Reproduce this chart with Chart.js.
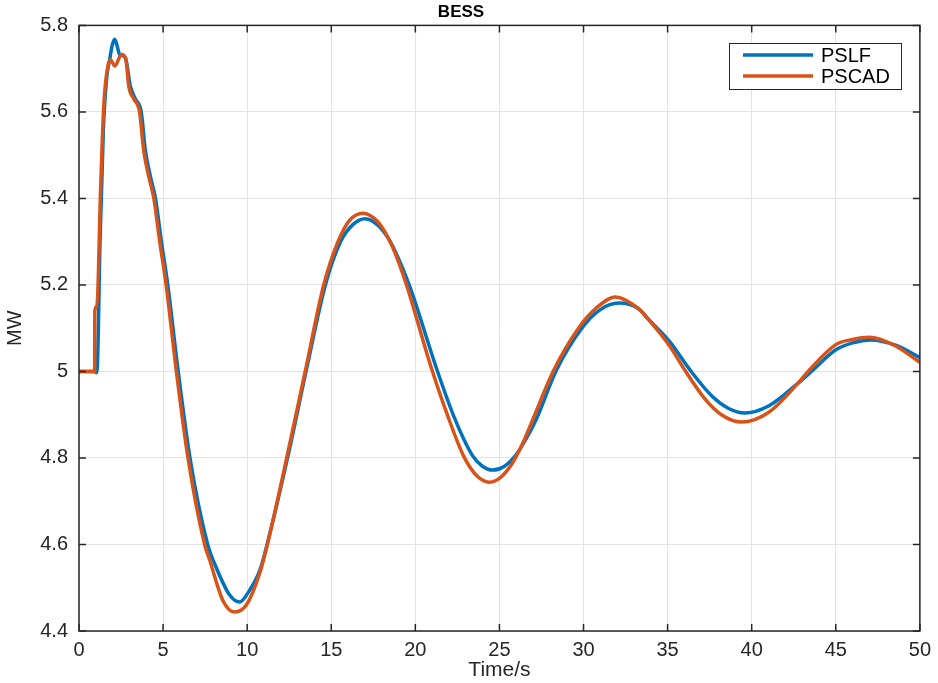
<!DOCTYPE html>
<html>
<head>
<meta charset="utf-8">
<script src="https://cdn.jsdelivr.net/npm/chart.js@4.4.0/dist/chart.umd.min.js"></script>
<style>
    body { margin: 0; background: #fff; }
    canvas { display: block; }
</style>
</head>
<body>
<canvas id="bessChart" width="938" height="683"></canvas>
<script>
// values
const pslfTime = [0, 0.98, 1.02, 1.1, 1.25, 1.45, 1.65, 1.82, 1.98, 2.12, 2.25, 2.41, 2.6, 2.8, 3.05, 3.35, 3.7, 3.95, 4.25, 4.55,
    4.9, 5.28, 5.9, 6.6, 7.65, 8.06, 8.96, 9.55, 10.14, 10.75, 11.25, 12.4, 13.5, 14.65, 15.55, 16.3, 17.02, 17.8, 18.3, 18.7,
    19.67, 21.25, 22.3, 23.39, 23.95, 24.6, 25.3, 26.0, 26.6, 27.2, 28.35, 29.9, 31.0, 32.1, 33.27, 33.87, 35.1, 36.34, 37.66, 38.6,
    39.6, 41.0, 42.76, 43.55, 45.0, 46.0, 47.1, 48.6, 50];
const pslfMW = [5.0, 5.0, 4.997, 5.02, 5.3, 5.56, 5.68, 5.72, 5.755, 5.768, 5.755, 5.733, 5.73, 5.72, 5.66, 5.63, 5.6, 5.51, 5.45, 5.40,
    5.30, 5.2, 5.0, 4.8, 4.6, 4.556, 4.483, 4.467, 4.494, 4.54, 4.61, 4.8, 5.0, 5.2, 5.3, 5.34, 5.353, 5.337, 5.313, 5.286,
    5.196, 5.008, 4.895, 4.806, 4.782, 4.772, 4.781, 4.808, 4.845, 4.89, 5.0, 5.1, 5.143, 5.158, 5.145, 5.12, 5.07, 5.003, 4.942, 4.915,
    4.904, 4.92, 4.973, 5.0, 5.05, 5.066, 5.073, 5.06, 5.032];

const pscadTime = [0, 0.93, 0.94, 1.06, 1.29, 1.48, 1.74, 1.88, 2.13, 2.53, 2.77, 2.97, 3.26, 3.6, 3.85, 4.15, 4.45, 4.8, 5.18, 5.79,
    6.48, 7.47, 7.77, 8.56, 9.25, 9.95, 10.74, 11.2, 12.35, 13.45, 14.55, 15.4, 16.1, 16.9, 17.7, 18.2, 18.64, 19.43, 20.92, 21.9,
    22.9, 23.7, 24.4, 25.1, 25.8, 26.4, 27.0, 28.19, 29.7, 30.8, 31.9, 33.27, 33.87, 35.1, 36.04, 37.23, 38.2, 39.4, 41.0, 42.76,
    43.35, 45.0, 46.0, 47.0, 48.5, 50];
const pscadMW = [5.0, 5.0, 5.14, 5.15, 5.43, 5.62, 5.71, 5.72, 5.706, 5.733, 5.724, 5.657, 5.63, 5.6, 5.51, 5.45, 5.40, 5.30, 5.2, 5.0,
    4.8, 4.6, 4.564, 4.47, 4.444, 4.46, 4.533, 4.6, 4.8, 5.0, 5.2, 5.3, 5.35, 5.366, 5.349, 5.322, 5.288, 5.205, 5.012, 4.9,
    4.802, 4.757, 4.744, 4.756, 4.79, 4.835, 4.89, 5.0, 5.1, 5.148, 5.172, 5.145, 5.12, 5.06, 5.002, 4.936, 4.9, 4.883, 4.905, 4.973,
    5.0, 5.062, 5.074, 5.079, 5.06, 5.021];

const xTicks = [0, 5, 10, 15, 20, 25, 30, 35, 40, 45, 50];
const yTicks = [4.4, 4.6, 4.8, 5.0, 5.2, 5.4, 5.6, 5.8];

const FONT = 'Liberation Sans, Arial, Helvetica, sans-serif';
const INK = '#262626';

function toPoints(ts, vs) {
    return ts.map((t, i) => ({ x: t, y: vs[i] }));
}

// box, inward ticks and legend like a MATLAB axes
const matlabFrame = {
    id: 'matlabFrame',
    afterDraw(chart) {
        const ctx = chart.ctx;
        const a = chart.chartArea;
        const x = chart.scales.x;
        const y = chart.scales.y;
        ctx.save();
        ctx.strokeStyle = INK;
        ctx.lineWidth = 1.5;
        ctx.strokeRect(a.left, a.top, a.right - a.left, a.bottom - a.top);
        const len = 7;
        ctx.beginPath();
        xTicks.forEach(v => {
            const px = x.getPixelForValue(v);
            ctx.moveTo(px, a.bottom); ctx.lineTo(px, a.bottom - len);
            ctx.moveTo(px, a.top); ctx.lineTo(px, a.top + len);
        });
        yTicks.forEach(v => {
            const py = y.getPixelForValue(v);
            ctx.moveTo(a.left, py); ctx.lineTo(a.left + len, py);
            ctx.moveTo(a.right, py); ctx.lineTo(a.right - len, py);
        });
        ctx.stroke();

        // legend
        const bx = 729, by = 43, bw = 172, bh = 46;
        ctx.fillStyle = '#fff';
        ctx.fillRect(bx, by, bw, bh);
        ctx.lineWidth = 1;
        ctx.strokeRect(bx + 0.5, by + 0.5, bw, bh);
        ctx.font = '20px ' + FONT;
        ctx.textBaseline = 'middle';
        chart.data.datasets.forEach((ds, i) => {
            const ly = by + 12 + i * 21;
            ctx.strokeStyle = ds.borderColor;
            ctx.lineWidth = 3.5;
            ctx.beginPath();
            ctx.moveTo(bx + 14, ly);
            ctx.lineTo(bx + 84, ly);
            ctx.stroke();
            ctx.fillStyle = '#000';
            ctx.fillText(ds.label, bx + 92, ly + 1);
        });
        ctx.restore();
    }
};

const ctx = document.getElementById('bessChart').getContext('2d');
new Chart(ctx, {
    type: 'line',
    data: {
        datasets: [{
            label: 'PSLF',
            data: toPoints(pslfTime, pslfMW),
            borderColor: '#0072BD',
            borderWidth: 3.5,
            pointRadius: 0,
            cubicInterpolationMode: 'monotone',
            order: 1
        }, {
            label: 'PSCAD',
            data: toPoints(pscadTime, pscadMW),
            borderColor: '#D95319',
            borderWidth: 3.5,
            pointRadius: 0,
            cubicInterpolationMode: 'monotone',
            order: 0
        }]
    },
    options: {
        responsive: false,
        animation: false,
        layout: { padding: { left: 0, right: 16, top: 0, bottom: 0 } },
        plugins: {
            legend: { display: false },
            tooltip: { enabled: false },
            title: {
                display: true,
                text: 'BESS',
                color: '#000',
                font: { family: FONT, size: 17, weight: 'bold' },
                padding: { top: 2, bottom: 3 }
            }
        },
        scales: {
            x: {
                type: 'linear',
                min: 0,
                max: 50,
                afterBuildTicks: s => { s.ticks = xTicks.map(v => ({ value: v })); },
                afterFit: s => { s.height = 52; },
                grid: { color: '#e3e3e3', lineWidth: 1, drawTicks: false },
                border: { display: false },
                ticks: { color: INK, padding: 7, maxRotation: 0, font: { family: FONT, size: 20 } },
                title: { display: true, text: 'Time/s', color: INK, padding: { top: 0, bottom: 0 }, font: { family: FONT, size: 21 } }
            },
            y: {
                min: 4.4,
                max: 5.8,
                afterBuildTicks: s => { s.ticks = yTicks.map(v => ({ value: v })); },
                afterFit: s => { s.width = 79; },
                grid: { color: '#e3e3e3', lineWidth: 1, drawTicks: false },
                border: { display: false },
                ticks: { color: INK, padding: 11, font: { family: FONT, size: 20 }, callback: v => String(+v.toFixed(1)) },
                title: { display: true, text: 'MW', color: INK, padding: { top: 3, bottom: 0 }, font: { family: FONT, size: 20 } }
            }
        }
    },
    plugins: [matlabFrame]
});
</script>
</body>
</html>
